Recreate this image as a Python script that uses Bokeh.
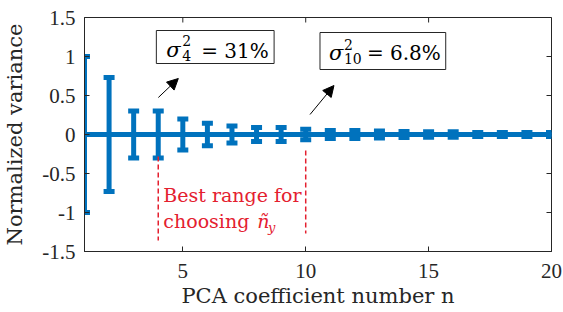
from bokeh.plotting import figure
from bokeh.models import (ColumnDataSource, Whisker, TeeHead, Label, BoxAnnotation,
                          Arrow, NormalHead, FixedTicker, Range1d)
from bokeh.embed import file_html
from bokeh.resources import INLINE

# ---- data ----
n = list(range(1, 21))
mean = [0.0] * 20
spread = [1.0, 0.73, 0.30, 0.30, 0.20, 0.145, 0.11, 0.09, 0.09, 0.068,
          0.05, 0.05, 0.045, 0.04, 0.035, 0.035, 0.025, 0.025, 0.025, 0.025]
x_ticks = [5, 10, 15, 20]
y_ticks = [-1.5, -1.0, -0.5, 0.0, 0.5, 1.0, 1.5]
y_tick_labels = ["-1.5", "-1", "-0.5", "0", "0.5", "1", "1.5"]
best_range = [4, 10]

BLUE = "#0072BD"
RED = "#E4202F"
AX = "#262626"
SERIF = "DejaVu Serif"
TICKFONT = "Liberation Serif"

X0, X1 = 1, 20
Y0, Y1 = -1.5, 1.5

src = ColumnDataSource(dict(n=n, mean=mean,
                            upper=[m + s for m, s in zip(mean, spread)],
                            lower=[m - s for m, s in zip(mean, spread)]))

p = figure(width=563, height=312, output_backend="svg", toolbar_location=None,
           x_range=Range1d(X0, X1), y_range=Range1d(Y0, Y1),
           min_border_left=83, min_border_right=12, min_border_top=17, min_border_bottom=61)
p.xgrid.visible = False
p.ygrid.visible = False
p.outline_line_color = AX
p.background_fill_color = "white"

# page pixel -> data helpers for annotation placement (frame: x 83..551, y 17..251)
def dx(px):
    return X0 + (px - 83) * (X1 - X0) / 468

def dy(py):
    return Y1 - (py - 17) * (Y1 - Y0) / 234

# axes
for ax in (p.xaxis[0], p.yaxis[0]):
    ax.axis_line_color = AX
    ax.major_tick_line_color = AX
    ax.major_tick_in = 5
    ax.major_tick_out = 0
    ax.minor_tick_line_color = None
    ax.major_label_text_font = TICKFONT
    ax.major_label_text_font_size = "21px"
    ax.major_label_text_color = AX
    ax.axis_label_text_font = SERIF
    ax.axis_label_text_font_size = "21px"
    ax.axis_label_text_font_style = "normal"
    ax.axis_label_text_color = AX
p.xaxis[0].ticker = FixedTicker(ticks=x_ticks)
p.yaxis[0].ticker = FixedTicker(ticks=y_ticks)
p.yaxis[0].major_label_overrides = {t: l for t, l in zip(y_ticks, y_tick_labels)}
p.xaxis[0].major_label_standoff = 12
p.yaxis[0].major_label_standoff = 9
p.yaxis[0].axis_label = "Normalized variance"
p.yaxis[0].axis_label_standoff = 12
p.xaxis[0].axis_label = "PCA coefficient number n"
p.xaxis[0].axis_label_standoff = 3

# inward tick marks on the top and right edges of the box
tx = (X1 - X0) * 5 / 468
ty = (Y1 - Y0) * 5 / 234
p.segment(x0=x_ticks, y0=[Y1] * len(x_ticks), x1=x_ticks, y1=[Y1 - ty] * len(x_ticks),
          line_color=AX, line_width=1)
p.segment(x0=[X1] * len(y_ticks), y0=y_ticks, x1=[X1 - tx] * len(y_ticks), y1=y_ticks,
          line_color=AX, line_width=1)

# zero line and error bars
p.line("n", "mean", source=src, line_color=BLUE, line_width=5)
wh = Whisker(base="n", upper="upper", lower="lower", source=src,
             line_color=BLUE, line_width=5,
             upper_head=TeeHead(size=11, line_color=BLUE, line_width=5),
             lower_head=TeeHead(size=11, line_color=BLUE, line_width=5))
p.add_layout(wh)

# red dashed range lines
p.segment(x0=best_range, y0=[dy(156), dy(150)],
          x1=best_range, y1=[dy(240), dy(233)],
          line_color=RED, line_width=1.5, line_dash="5 3")

def lab(text, px, py, size, color="black", style="normal", font=SERIF):
    # py is the wanted baseline; compensate for the renderer's baseline offset
    p.add_layout(Label(x=dx(px), y=dy(py - 0.33 * size), text=text, text_font=font,
                       text_font_size=f"{size}px", text_color=color,
                       text_font_style=style, text_align="left",
                       text_baseline="alphabetic"))

lab("Best range for", 162, 201, 19, RED)
lab("choosing", 162, 227, 19, RED)
lab("ñ", 256, 227, 19, RED, "italic")
lab("y", 267, 231, 13, RED, "italic")

# annotation boxes
for (l, r, t, b) in [(155, 273, 30, 63), (319, 445, 32, 69)]:
    p.add_layout(BoxAnnotation(left=dx(l), right=dx(r), top=dy(t), bottom=dy(b),
                               fill_color="white", fill_alpha=1,
                               line_color=AX, line_alpha=1, line_width=1))
lab("σ", 165, 56, 21, style="italic")
lab("2", 181, 45, 14)
lab("4", 181, 60, 14)
lab("= 31%", 200, 57, 20)
lab("σ", 328, 59, 21, style="italic")
lab("2", 343, 49, 14)
lab("10", 343, 63, 14)
lab("= 6.8%", 366, 59, 20)

# arrows
for (x0, y0, x1, y1) in [(157, 97, 177, 78), (309, 114, 333, 85)]:
    p.add_layout(Arrow(x_start=dx(x0), y_start=dy(y0), x_end=dx(x1), y_end=dy(y1),
                       line_color="black", line_width=1,
                       end=NormalHead(size=11, fill_color="black", line_color="black")))

open("out.html", "w").write(file_html(p, INLINE))
